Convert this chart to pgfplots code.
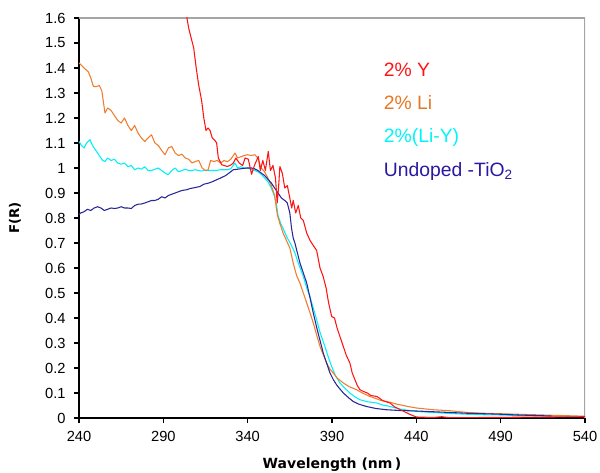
\documentclass[border=0pt]{standalone}
\usepackage{fontspec}
\setmainfont{Liberation Sans}
\newfontfamily\dejabold{DejaVu Sans}
\usepackage{pgfplots}
\pgfplotsset{compat=1.18}
\definecolor{cOrange}{RGB}{240,125,45}
\definecolor{cOrangeT}{RGB}{230,120,35}
\definecolor{cCyan}{RGB}{0,240,250}
\definecolor{cCyanT}{RGB}{0,245,250}
\definecolor{cNavy}{RGB}{40,40,150}
\definecolor{cNavyT}{RGB}{40,25,160}
\definecolor{cRed}{RGB}{255,20,20}
\definecolor{frameGrey}{RGB}{165,165,165}
\begin{document}
\begin{tikzpicture}
\begin{axis}[
  scale only axis,
  width=379.5pt, height=300pt,
  xmin=240, xmax=540, ymin=0, ymax=1.6,
  xtick={240,290,...,540},
  ytick={0,0.1,...,1.6},
  axis x line*=bottom, axis y line*=left,
  axis line style={black, line width=0.8pt, -},
  tick align=outside,
  major tick length=3.5pt,
  tick style={black, line width=0.8pt},
  /pgf/number format/assume math mode=true,
  yticklabel style={/pgf/number format/fixed, /pgf/number format/precision=1, xshift=-3pt},
  xticklabel style={/pgf/number format/1000 sep={}, yshift=-3pt},
  tick label style={font=\fontsize{11}{12}\selectfont},
  xlabel={\fontsize{10.5}{12}\selectfont\bfseries\dejabold Wavelength (nm\,)},
  ylabel={\fontsize{10}{11}\selectfont\bfseries\dejabold F(R)},
  every axis x label/.style={at={(axis description cs:0.5,-0.1175)}, anchor=center},
  every axis y label/.style={at={(axis description cs:-0.1265,0.5)}, rotate=90, anchor=center},
  clip=true,
  every axis plot/.append style={line width=0.8pt, line join=round},
]
\coordinate (ll) at (rel axis cs:0,0);
\coordinate (ur) at (rel axis cs:1,1);
\draw[frameGrey, line width=0.8pt] (rel axis cs:0,1) -- (rel axis cs:1,1) -- (rel axis cs:1,0);

% 2%(Li-Y)
\addplot[cCyan] coordinates {
(240,1.106)(241.5,1.09)(243,1.08)(244.5,1.10)(246.5,1.113)(248,1.09)(250,1.07)(252,1.05)(254,1.03)(255.4,1.026)
(257,1.04)(259,1.03)(261,1.035)(263,1.02)(265,1.015)(267,1.02)(269,1.005)(271,1.01)(273,0.993)(275,1.00)
(277,0.995)(279,1.005)(281,0.99)(283,0.99)(285,0.995)(287,1.00)(289,0.99)(291,0.98)(292.9,0.973)(295,0.99)
(297,1.00)(299,0.985)(301,0.99)(303,0.995)(305,0.99)(307,0.99)(309,0.993)(312,0.988)(315,0.99)(318,0.99)
(321,0.99)(324,0.993)(328,0.993)(330,0.997)(332.5,1.02)(334,1.00)(336,1.005)(338,1.00)(340,1.00)(342,0.995)
(344,0.99)(346,0.985)(348,0.975)(350,0.96)(352,0.945)(354,0.92)(356,0.885)(357.1,0.853)(358,0.81)(359.5,0.78)
(361.5,0.75)(363.5,0.72)(366,0.69)(368,0.66)(370,0.62)(373,0.566)(375,0.52)(376.9,0.486)(378.9,0.44)(380.9,0.393)
(383,0.34)(385.8,0.286)(388,0.24)(389.8,0.206)(392,0.17)(394.7,0.14)(397.5,0.12)(400.6,0.10)(403.5,0.085)(406.6,0.073)
(411,0.065)(416.5,0.06)(420,0.052)(424.4,0.046)(430,0.036)(440,0.026)(450,0.022)(460,0.018)(470,0.015)(480,0.013)
(490,0.012)(500,0.010)(510,0.009)(520,0.008)(530,0.007)(540,0.006)
};

% 2% Li
\addplot[cOrange] coordinates {
(240,1.42)(241.5,1.41)(243,1.40)(245.5,1.385)(247,1.36)(248.5,1.327)(250,1.325)(252,1.33)(253.5,1.31)(255.4,1.22)
(257,1.24)(259,1.23)(261,1.21)(263,1.19)(265,1.18)(267,1.20)(269,1.17)(271,1.15)(273,1.17)(275,1.14)
(277,1.12)(279,1.106)(281,1.12)(283,1.133)(285,1.10)(287,1.09)(289,1.07)(291,1.053)(293,1.08)(295,1.086)
(297,1.06)(299,1.05)(301,1.055)(303,1.04)(305,1.035)(307,1.02)(309,1.026)(311,1.03)(313,1.00)(315,0.99)
(316.6,0.993)(318,1.03)(320,1.026)(322,1.03)(324,1.02)(326,1.03)(328,1.025)(330,1.035)(332.5,1.06)(334,1.04)
(336,1.045)(338,1.05)(340,1.053)(342,1.05)(344.3,1.053)(346,1.04)(348,1.00)(350,0.985)(352,0.96)(354,0.93)
(356,0.89)(357,0.84)(357.7,0.81)(359,0.78)(361,0.74)(363,0.71)(365,0.68)(367,0.62)(369,0.57)(371,0.54)
(373,0.50)(375,0.46)(377,0.42)(378.9,0.38)(381,0.33)(382.9,0.286)(385,0.25)(386.8,0.22)(388.8,0.195)(390.8,0.18)
(393,0.16)(396.7,0.14)(400,0.126)(404.6,0.113)(408,0.10)(412.5,0.086)(416,0.078)(419,0.07)(422.3,0.066)(425,0.062)
(428,0.056)(430.3,0.053)(435,0.046)(440,0.04)(450,0.033)(460,0.029)(470,0.022)(480,0.019)(490,0.017)(500,0.015)
(510,0.013)(520,0.011)(530,0.009)(540,0.007)
};

% Undoped TiO2
\addplot[cNavy] coordinates {
(240,0.813)(241,0.82)(243,0.825)(245,0.835)(247,0.83)(249,0.84)(251,0.845)(253,0.84)(255,0.83)(257,0.835)
(259,0.84)(261,0.838)(263,0.84)(265,0.845)(267,0.84)(269,0.84)(271,0.838)(273,0.85)(275,0.855)(277,0.856)
(279,0.86)(281,0.865)(283,0.87)(285,0.87)(287,0.875)(289,0.885)(291,0.88)(293,0.89)(295,0.895)(297,0.90)
(299,0.905)(301,0.91)(303.8,0.913)(306,0.918)(309,0.922)(311.7,0.926)(314,0.935)(317,0.94)(319,0.945)(321.6,0.953)
(324,0.96)(327,0.97)(329,0.98)(331.5,0.993)(334,0.995)(337,0.998)(340,1.0)(342.3,1.0)(344,0.997)(346,0.99)
(348,0.98)(350,0.97)(352,0.955)(354,0.94)(356,0.92)(358,0.90)(360,0.88)(362,0.87)(363.5,0.86)(365,0.82)
(366,0.76)(367,0.72)(368,0.70)(369.5,0.66)(371,0.62)(373,0.58)(375,0.54)(377,0.48)(378.9,0.42)(381,0.36)
(382.9,0.31)(384.8,0.26)(386.8,0.22)(388.8,0.18)(390.8,0.153)(393,0.13)(396.7,0.10)(400,0.08)(402.6,0.066)(406,0.055)
(410.5,0.046)(416,0.038)(422.3,0.033)(430,0.030)(440,0.028)(450,0.025)(460,0.022)(470,0.019)(480,0.017)(490,0.015)
(500,0.012)(510,0.010)(520,0.008)
};

% 2% Y
\addplot[cRed] coordinates {
(303,1.65)(304,1.60)(305,1.56)(306.5,1.52)(308,1.48)(309.5,1.40)(311,1.33)(312.7,1.27)(314,1.20)(315.3,1.15)
(316.5,1.16)(317.7,1.15)(319,1.12)(320.6,1.11)(321.6,1.10)(322.6,1.04)(324.6,1.013)(326,1.01)(328,1.006)(330,1.012)
(331.5,1.02)(333,1.04)(335,1.02)(337,1.01)(338.5,1.04)(340.4,1.035)(342.3,0.975)(344,1.01)(346.3,1.046)(347.5,0.99)
(349,1.03)(350.5,0.99)(352.2,1.066)(353.5,0.99)(355,1.01)(356.5,0.96)(357.5,0.86)(358.3,0.92)(359.1,1.006)(360.5,0.98)
(362,0.92)(363.5,0.93)(365,0.88)(366.1,0.84)(367,0.87)(368.5,0.82)(370,0.85)(371.5,0.80)(373,0.79)(375,0.74)
(377,0.71)(378.9,0.69)(380.9,0.67)(382.9,0.60)(384.8,0.565)(386.5,0.52)(388,0.46)(389.8,0.406)(391.5,0.40)(393,0.36)
(395,0.32)(396.7,0.286)(398.5,0.25)(400.6,0.22)(402,0.18)(403.6,0.153)(405,0.13)(406.6,0.113)(409,0.105)(411,0.10)
(413,0.09)(416.5,0.086)(418,0.08)(420,0.07)(422,0.065)(424.4,0.06)(427,0.045)(430,0.035)(433,0.025)(436,0.015)
(440,0.004)(445,0.003)(450,0.002)(455,0.005)(460,0.001)(480,0.002)(500,0.003)(520,0.004)(540,0.005)
};

\node[anchor=west, text=cRed, font=\fontsize{14.5}{17}\selectfont] at (axis cs:418,1.393) {2\% Y};
\node[anchor=west, text=cOrangeT, font=\fontsize{14.5}{17}\selectfont] at (axis cs:418,1.261) {2\% Li};
\node[anchor=west, text=cCyanT, font=\fontsize{14.5}{17}\selectfont] at (axis cs:418,1.121) {2\%(Li-Y)};
\node[anchor=west, text=cNavyT, font=\fontsize{14.5}{17}\selectfont] at (axis cs:418,0.985) {Undoped -TiO\textsubscript{2}};
\end{axis}
\pgfresetboundingbox
\path ([xshift=-59.25pt,yshift=-41.25pt]ll) rectangle ([xshift=11.25pt,yshift=13.5pt]ur);
\end{tikzpicture}
\end{document}
